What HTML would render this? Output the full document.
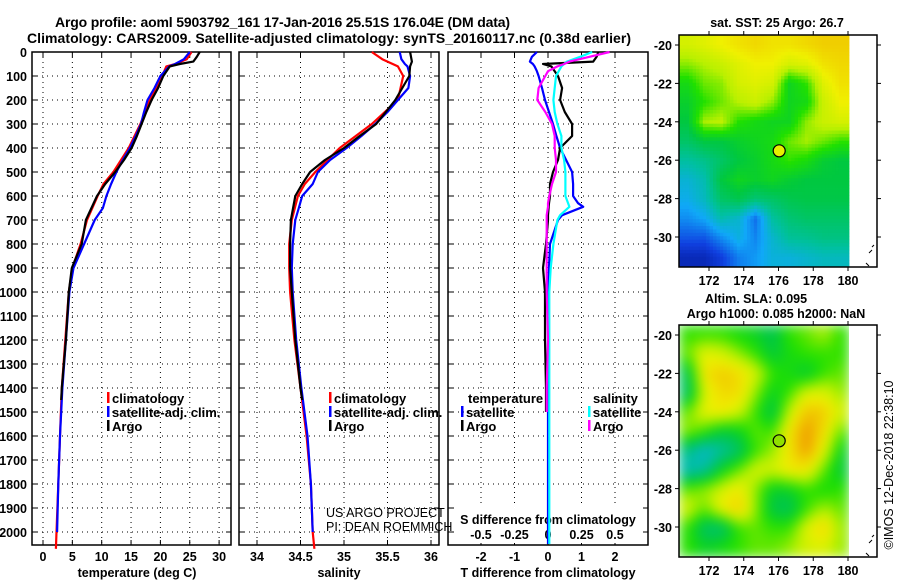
<!DOCTYPE html>
<html><head><meta charset="utf-8">
<style>
html,body{margin:0;padding:0;background:#fff;}
svg{display:block;font-family:"Liberation Sans",Arial,sans-serif;font-weight:bold;}
</style></head>
<body>
<svg id="fig" width="900" height="580" viewBox="0 0 900 580" xmlns="http://www.w3.org/2000/svg">
<defs>
<clipPath id="clipSLA"><rect x="679" y="325" width="170" height="232"/></clipPath>
<filter id="blurSLA" x="-5%" y="-5%" width="110%" height="110%" color-interpolation-filters="sRGB">
<feGaussianBlur stdDeviation="6" edgeMode="duplicate"/>
</filter>
</defs>
<text x="55" y="27" font-size="14" textLength="455">Argo profile: aoml 5903792_161 17-Jan-2016 25.51S 176.04E (DM data)</text>
<text x="27" y="43" font-size="14" textLength="604">Climatology: CARS2009. Satellite-adjusted climatology: synTS_20160117.nc (0.38d earlier)</text>
<g id="g"></g>
</svg>
<script>
// ---------- data ----------
const depthTicks=[0,100,200,300,400,500,600,700,800,900,1000,1100,1200,1300,1400,1500,1600,1700,1800,1900,2000];
const tempTicks=[0,5,10,15,20,25,30];
const salTicks=[34,34.5,35,35.5,36];
const salTickLabels=["34","34.5","35","35.5","36"];
const tdTicks=[-2,-1,0,1,2];
const sdTicks=[-0.5,-0.25,0,0.25,0.5];
const sdTickLabels=["-0.5","-0.25","0","0.25","0.5"];

const climDepth=[0,30,50,60,100,200,300,400,500,550,600,700,800,900,1000,1200,1400,1600,1800,2000,2070];
const climTemp=[25.3,24.5,22.5,21,20.3,18.2,16.6,14.6,12.0,10.3,9.3,7.5,6.4,5.0,4.4,3.8,3.2,2.9,2.6,2.3,2.2];
const climSal=[35.32,35.44,35.56,35.62,35.68,35.62,35.32,34.95,34.67,34.55,34.47,34.40,34.37,34.37,34.38,34.43,34.50,34.57,34.62,34.64,34.66];

const satDepth=[0,30,50,60,100,150,200,250,300,350,400,450,500,550,600,650,700,800,900,1000,1200,1400,1600,1800,2000];
const satTemp=[25,24,22.5,21.5,20,19,17.8,17.2,16.7,15.8,14.8,13.6,12.5,11.6,10.8,10.2,8.8,7.0,5.2,4.5,3.9,3.3,2.9,2.6,2.4];
const satSal=[35.64,35.66,35.70,35.73,35.76,35.74,35.62,35.50,35.36,35.20,35.03,34.84,34.70,34.64,34.52,34.48,34.44,34.41,34.40,34.41,34.45,34.51,34.58,34.62,34.64];

const argoDepth=[0,20,40,50,60,100,150,200,250,300,350,400,450,500,550,600,700,800,900,1000,1200,1400,1450];
const argoTemp=[26.7,26.2,25.6,23.3,21.6,20.5,19.6,18.5,17.6,16.8,16.0,15.1,13.8,12.3,10.6,9.2,7.3,6.6,4.9,4.4,3.9,3.2,3.1];
const argoSal=[35.76,35.77,35.78,35.77,35.76,35.75,35.67,35.59,35.48,35.37,35.18,35.00,34.78,34.61,34.52,34.44,34.39,34.38,34.38,34.40,34.44,34.50,34.52];

const diffDepth=[0,20,40,50,60,80,100,150,200,250,300,350,400,450,500,550,600,630,645,680,700,800,900,1000,1200,1400,1500,1700,2000,2050];
const satTdiff=[-0.33,-0.48,-0.54,-0.45,-0.4,-0.33,-0.28,-0.18,-0.09,0.03,0.15,0.25,0.36,0.54,0.72,0.75,0.75,0.9,1.05,0.42,0.3,0.06,0.03,0,0,0,0,0,0,0];
const argoTdiff=[1.5,1.45,1.35,-0.15,0.1,0.2,0.3,0.42,0.36,0.5,0.72,0.72,0.36,0.3,0.15,0.06,0.06,0.03,0.02,0,0,-0.06,-0.15,-0.09,-0.09,-0.06,-0.06,null,null,null];
const satSdiff=[0.33,0.24,0.14,0.12,0.1,0.08,0.06,0.05,0.04,0.05,0.07,0.1,0.1,0.12,0.13,0.13,0.13,0.15,0.16,0.09,0.07,0.04,0.02,0.01,0.01,0.01,0.01,0.01,0.01,0.01];
const argoSdiff=[0.46,0.31,0.16,0.12,0.07,0.0,-0.02,-0.07,-0.08,-0.02,0.03,0.05,0.05,0.06,0.06,0.03,0.01,0.0,0.0,-0.01,-0.01,-0.01,-0.01,-0.01,0,-0.01,-0.01,null,null,null];

const mapLonTicks=[172,174,176,178,180];
const mapLatTicks=[-20,-22,-24,-26,-28,-30];
const floatLon=176.04, floatLat=-25.51;
const sstGrid=[
[0.8,0.82,0.85,0.88,0.9,0.88,0.88,0.9,0.92,0.92],
[0.72,0.75,0.78,0.82,0.85,0.85,0.8,0.82,0.88,0.9],
[0.62,0.7,0.72,0.8,0.82,0.8,0.6,0.66,0.82,0.88],
[0.58,0.65,0.7,0.75,0.78,0.72,0.6,0.62,0.78,0.85],
[0.55,0.74,0.76,0.65,0.62,0.6,0.6,0.72,0.78,0.8],
[0.5,0.55,0.55,0.58,0.6,0.62,0.7,0.74,0.7,0.66],
[0.42,0.45,0.5,0.55,0.58,0.62,0.66,0.63,0.57,0.55],
[0.35,0.4,0.55,0.6,0.58,0.6,0.57,0.55,0.55,0.55],
[0.32,0.38,0.5,0.53,0.48,0.5,0.53,0.54,0.54,0.54],
[0.26,0.3,0.4,0.36,0.22,0.42,0.48,0.5,0.5,0.5],
[0.18,0.18,0.26,0.33,0.25,0.36,0.43,0.44,0.46,0.46],
[0.08,0.08,0.14,0.24,0.28,0.34,0.34,0.36,0.38,0.38]];
const slaGrid=[
[0.5,0.5,0.5,0.45,0.4,0.3,0.5,0.55,0.62,0.5],
[0.55,0.75,0.7,0.6,0.5,0.35,0.45,0.5,0.5,0.5],
[0.3,0.82,0.9,0.85,0.7,0.5,0.45,0.35,0.5,0.55],
[0.25,0.72,0.85,0.85,0.6,0.4,0.5,0.72,0.72,0.6],
[0.55,0.75,0.8,0.7,0.5,0.3,0.68,0.92,0.9,0.7],
[0.6,0.5,0.35,0.4,0.55,0.5,0.82,1.0,0.85,0.55],
[0.2,0.05,0.15,0.25,0.5,0.6,0.82,1.0,0.75,0.4],
[0.1,0.15,0.4,0.55,0.7,0.7,0.8,0.8,0.55,0.35],
[0.55,0.6,0.7,0.8,0.6,0.38,0.4,0.5,0.45,0.5],
[0.7,0.55,0.78,0.9,0.6,0.32,0.28,0.5,0.62,0.55],
[0.5,0.25,0.22,0.5,0.55,0.5,0.5,0.72,0.88,0.6],
[0.5,0.4,0.45,0.5,0.55,0.55,0.6,0.7,0.72,0.6]];

// ---------- helpers ----------
const NS="http://www.w3.org/2000/svg";
const G=document.getElementById('g');
function mk(tag,attrs,parent){const e=document.createElementNS(NS,tag);for(const k in attrs)e.setAttribute(k,attrs[k]);(parent||G).appendChild(e);return e;}
function txt(x,y,s,size,anchor,parent,weight){const t=mk('text',{x:x,y:y,'font-size':size||12,'text-anchor':anchor||'start'},parent);if(weight)t.setAttribute('font-weight',weight);t.textContent=s;return t;}

const TOP=52, BOT=545;
const yD=d=>TOP+d*0.24;
const xT=t=>43+t*5.87;
const xS=s=>257+(s-34)*87;
const xTd=t=>548+t*33.5;
const xSd=s=>548+s*134;

function frame(x0,x1,name,xticksPx){
  const g=mk('g',{});
  
  
  depthTicks.forEach(d=>{const y=yD(d);
    mk('line',{x1:x0,x2:x1,y1:y,y2:y,stroke:'#000','stroke-width':1,'stroke-dasharray':'1,4'},g);
    mk('line',{x1:x0,x2:x0+5,y1:y,y2:y,stroke:'#000'},g);
    mk('line',{x1:x1-5,x2:x1,y1:y,y2:y,stroke:'#000'},g);
  });
  xticksPx.forEach(x=>{
    mk('line',{x1:x,x2:x,y1:TOP,y2:BOT,stroke:'#000','stroke-width':1,'stroke-dasharray':'1,4'},g);
    mk('line',{x1:x,x2:x,y1:TOP,y2:TOP+5,stroke:'#000'},g);
    mk('line',{x1:x,x2:x,y1:BOT-5,y2:BOT,stroke:'#000'},g);
  });
  mk('rect',{x:x0,y:TOP,width:x1-x0,height:BOT-TOP,fill:'none',stroke:'#000','stroke-width':1.5},g);
  return g;
}
function series(depths,vals,xf,color,name){
  let d='';let pen=false;
  depths.forEach((dp,i)=>{const v=vals[i];if(v===null||v===undefined){pen=false;return;}
    const y=yD(dp).toFixed(1), x=xf(v).toFixed(1);d+=(pen?'L':'M')+x+','+y;pen=true;});
  const p=mk('path',{d:d,fill:'none',stroke:color,'stroke-width':2.2,'stroke-linejoin':'round'});
  
  
  return p;
}
function legendEntry(x,y,color,label,name){
  const g=mk('g',{});
  
  
  mk('rect',{x:x,y:y-11,width:2.5,height:11,fill:color},g);
  txt(x+5,y,label,13,'start',g);
}

// y axis labels
const yl=mk('g',{});


depthTicks.forEach(d=>txt(27,yD(d)+5,String(d),12.5,'end',yl));

// Panel 1 temperature
frame(32,231,'temperature-panel',tempTicks.map(xT));
tempTicks.forEach(t=>{const e=txt(xT(t),561,String(t),12.5,'middle');});
{const e=txt(137,577,'temperature (deg C)',12.5,'middle');}
series(climDepth,climTemp,xT,'#f00','temp-climatology-line');
series(satDepth,satTemp,xT,'#00f','temp-satellite-line');
series(argoDepth,argoTemp,xT,'#000','temp-argo-line');
legendEntry(107,403,'#f00','climatology','legend-entry-climatology');
legendEntry(107,417,'#00f','satellite-adj. clim.','legend-entry-satellite');
legendEntry(107,431,'#000','Argo','legend-entry-argo');

// Panel 2 salinity
frame(239,439,'salinity-panel',salTicks.map(xS));
salTicks.forEach((s,i)=>{const e=txt(xS(s),561,salTickLabels[i],12.5,'middle');});
{const e=txt(339,577,'salinity',12.5,'middle');}
series(climDepth,climSal,xS,'#f00','sal-climatology-line');
series(satDepth,satSal,xS,'#00f','sal-satellite-line');
series(argoDepth,argoSal,xS,'#000','sal-argo-line');
legendEntry(329,403,'#f00','climatology','legend-entry-sal-climatology');
legendEntry(329,417,'#00f','satellite-adj. clim.','legend-entry-sal-satellite');
legendEntry(329,431,'#000','Argo','legend-entry-sal-argo');
{const g=mk('g',{});
 txt(326,517,'US ARGO PROJECT',12.5,'start',g,'normal');txt(326,531,'PI: DEAN ROEMMICH',12.5,'start',g,'normal');}

// Panel 3 differences
frame(448,648,'difference-panel',tdTicks.map(xTd));
tdTicks.forEach(t=>{const e=txt(xTd(t),561,String(t),12.5,'middle');});
{const e=txt(548,577,'T difference from climatology',12.5,'middle');}
mk('rect',{x:455,y:507,width:188,height:36,fill:'#fff'});
{const e=txt(548,524,'S difference from climatology',12.5,'middle');}
sdTicks.forEach((s,i)=>{const e=txt(xSd(s),539,sdTickLabels[i],12.5,'middle');});
series(diffDepth,satTdiff,xTd,'#00f','tdiff-satellite-line');
series(diffDepth,argoTdiff,xTd,'#000','tdiff-argo-line');
series(diffDepth,satSdiff,xSd,'#0ff','sdiff-satellite-line');
series(diffDepth,argoSdiff,xSd,'#f0f','sdiff-argo-line');
{const e=txt(468,403,'temperature',13);}
{const e=txt(593,403,'salinity',13);}
legendEntry(461,417,'#00f','satellite','legend-entry-tdiff-satellite');
legendEntry(461,431,'#000','Argo','legend-entry-tdiff-argo');
legendEntry(588,417,'#0ff','satellite','legend-entry-sdiff-satellite');
legendEntry(588,431,'#f0f','Argo','legend-entry-sdiff-argo');

// ---------- maps ----------
const cstops=[[0,[0,16,138]],[0.15,[16,64,224]],[0.3,[16,168,248]],[0.42,[0,192,160]],[0.55,[0,200,64]],[0.65,[32,224,0]],[0.75,[184,240,0]],[0.85,[240,240,0]],[0.95,[240,192,0]],[1,[240,144,0]]];
function cmap(v){v=Math.max(0,Math.min(1,v));for(let i=1;i<cstops.length;i++){if(v<=cstops[i][0]){const a=cstops[i-1],b=cstops[i];const f=(v-a[0])/(b[0]-a[0]);const c=a[1].map((q,k)=>Math.round(q+(b[1][k]-q)*f));return 'rgb('+c.join(',')+')';}}return 'rgb(240,144,0)';}
function bilin(grid,gx,gy){
  const R=grid.length,C=grid[0].length;
  gx=Math.max(0,Math.min(C-1,gx));gy=Math.max(0,Math.min(R-1,gy));
  const x0=Math.floor(gx),y0=Math.floor(gy),x1=Math.min(C-1,x0+1),y1=Math.min(R-1,y0+1);
  const fx=gx-x0,fy=gy-y0;
  return grid[y0][x0]*(1-fx)*(1-fy)+grid[y0][x1]*fx*(1-fy)+grid[y1][x0]*(1-fx)*fy+grid[y1][x1]*fx*fy;
}

function drawMap(top,grid,name,smooth,xform,circleFill){
  const lonX=l=>709+(l-172)*17.375;
  const latY=la=>top+10+(-20-la)*19.2;
  const g=mk('g',{});
  
  
  const cells=mk('g',smooth?{filter:'url(#blurSLA)'}:{},smooth?mk('g',{'clip-path':'url(#clipSLA)'},g):g);
  const NX=50,NY=68;
  const cw=170/NX, ch=232/NY;
  const R=grid.length,C=grid[0].length;
  for(let r=0;r<NY;r++)for(let c=0;c<NX;c++){
    const gx=(c+0.5)/NX*C-0.5, gy=(r+0.5)/NY*R-0.5;
    const v=bilin(grid,gx,gy);
    const rc=mk('rect',{x:(679+c*cw).toFixed(2),y:(top+r*ch).toFixed(2),width:(cw+0.4).toFixed(2),height:(ch+0.4).toFixed(2),fill:cmap(xform(v))},cells);
    
    
  }
  mk('rect',{x:679,y:top,width:198,height:232,fill:'none',stroke:'#000','stroke-width':1.5},g);
  mapLonTicks.forEach(l=>{const x=lonX(l);
    mk('line',{x1:x,x2:x,y1:top,y2:top-4,stroke:'#000'},g);
    mk('line',{x1:x,x2:x,y1:top+232,y2:top+236,stroke:'#000'},g);
    txt(x,top+250,String(l),12.5,'middle',g);});
  mapLatTicks.forEach(la=>{const y=latY(la);
    mk('line',{x1:679,x2:675,y1:y,y2:y,stroke:'#000'},g);
    mk('line',{x1:877,x2:881,y1:y,y2:y,stroke:'#000'},g);
    txt(672,y+5,String(la),12.5,'end',g);});
  const cc=mk('circle',{cx:lonX(floatLon),cy:latY(floatLat),r:6,fill:circleFill,stroke:'#000','stroke-width':1.2},g);
  
  
  mk('path',{d:'M872,'+(top+215)+'l-3,3 M874,'+(top+210)+'l-2,2 M866,'+(top+228)+'l3,3',stroke:'#000','stroke-width':1},g);
}
drawMap(35,sstGrid,'sst-map',false,v=>v,'#e8f000');
drawMap(325,slaGrid,'sla-map',true,v=>0.32+0.68*v,'#90e000');
{const e=txt(777,27,'sat. SST: 25 Argo: 26.7',12.5,'middle');}
{const e=txt(756,303,'Altim. SLA: 0.095',12.5,'middle');}
{const e=txt(776,318,'Argo h1000: 0.085 h2000: NaN',12.5,'middle');}
{const e=txt(0,0,'©IMOS 12-Dec-2018 22:38:10',12.5,'middle',null,'normal');e.setAttribute('transform','translate(893,465) rotate(-90)');}
</script>
</body></html>
